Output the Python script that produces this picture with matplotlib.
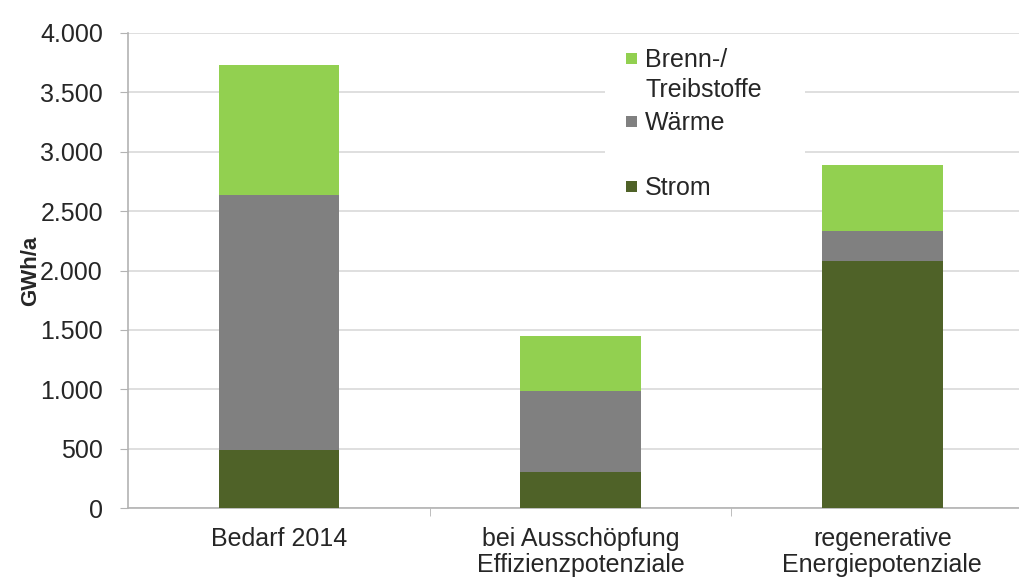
import matplotlib.pyplot as plt
from matplotlib.patches import Rectangle
from matplotlib.ticker import FuncFormatter, FixedLocator
import numpy as np

plt.rcParams['font.family'] = ['Liberation Sans', 'DejaVu Sans']

# data (GWh/a)
categories = ['Bedarf 2014', 'bei Ausschöpfung\nEffizienzpotenziale',
              'regenerative\nEnergiepotenziale']
strom = [490, 300, 2080]
waerme = [2150, 685, 255]
brenn = [1090, 460, 550]

series_names = ['Brenn-/\nTreibstoffe', 'Wärme', 'Strom']
colors = {'Strom': '#4f6228', 'Wärme': '#808080', 'Brenn': '#92d050'}
text_col = '#262626'
axis_col = '#b3b3b3'

W, H = 1019, 581
fig = plt.figure(figsize=(W / 100, H / 100), dpi=100)
# axes placed in pixels: left 128, right 1033, top 33, bottom 508
ax = fig.add_axes([128 / W, (H - 508) / H, (1033 - 128) / W, (508 - 33) / H])

x = np.arange(len(categories))
bw = 0.4
ax.bar(x, strom, bw, color=colors['Strom'], zorder=3)
ax.bar(x, waerme, bw, bottom=strom, color=colors['Wärme'], zorder=3)
bottom2 = np.array(strom) + np.array(waerme)
ax.bar(x, brenn, bw, bottom=bottom2, color=colors['Brenn'], zorder=3)

ax.set_xlim(-0.5, len(categories) - 0.5)
ax.set_ylim(0, 4000)
ax.set_yticks(np.arange(0, 4001, 500))
ax.yaxis.set_major_formatter(FuncFormatter(lambda v, p: f"{int(v):,}".replace(",", ".")))
ax.grid(axis='y', color='#d9d9d9', linewidth=1.2, zorder=0)
ax.set_axisbelow(True)

ax.set_xticks(x)
ax.set_xticklabels(categories, linespacing=1.1)
ax.xaxis.set_minor_locator(FixedLocator([0.5, 1.5]))
ax.tick_params(axis='x', which='major', length=0, pad=14, labelsize=18, labelcolor=text_col)
ax.tick_params(axis='x', which='minor', length=6, color=axis_col, direction='out')
ax.tick_params(axis='y', length=6, color=axis_col, pad=12, labelsize=18, labelcolor=text_col)

for s in ['top', 'right']:
    ax.spines[s].set_visible(False)
ax.spines['left'].set_color(axis_col)
ax.spines['bottom'].set_color(axis_col)
ax.spines['left'].set_linewidth(1.2)
ax.spines['bottom'].set_linewidth(1.2)

ax.set_ylabel('GWh/a', fontsize=16, fontweight='bold', color=text_col, va='center')
ax.yaxis.set_label_coords(-97 / 905, 0.5)


# legend drawn by hand (Excel style: marker next to first line of label)
def px(xp, yp):
    return xp / W, (H - yp) / H


bx, by = px(605, 203)
fig.patches.append(Rectangle((bx, by), 200 / W, 163 / H, transform=fig.transFigure,
                             facecolor='white', edgecolor='none', zorder=5))
leg_cols = [colors['Brenn'], colors['Wärme'], colors['Strom']]
leg_y = [59, 122, 187]
for name, c, yy in zip(series_names, leg_cols, leg_y):
    mx, my = px(626, yy + 5)
    fig.patches.append(Rectangle((mx, my), 11 / W, 11 / H, transform=fig.transFigure,
                                 facecolor=c, edgecolor='none', zorder=6))
    tx, ty = px(645, yy - 11)
    fig.text(tx, ty, name, fontsize=18, color=text_col, va='top', ha='left',
             linespacing=1.3, zorder=7)

fig.savefig('out.png', dpi=100)
